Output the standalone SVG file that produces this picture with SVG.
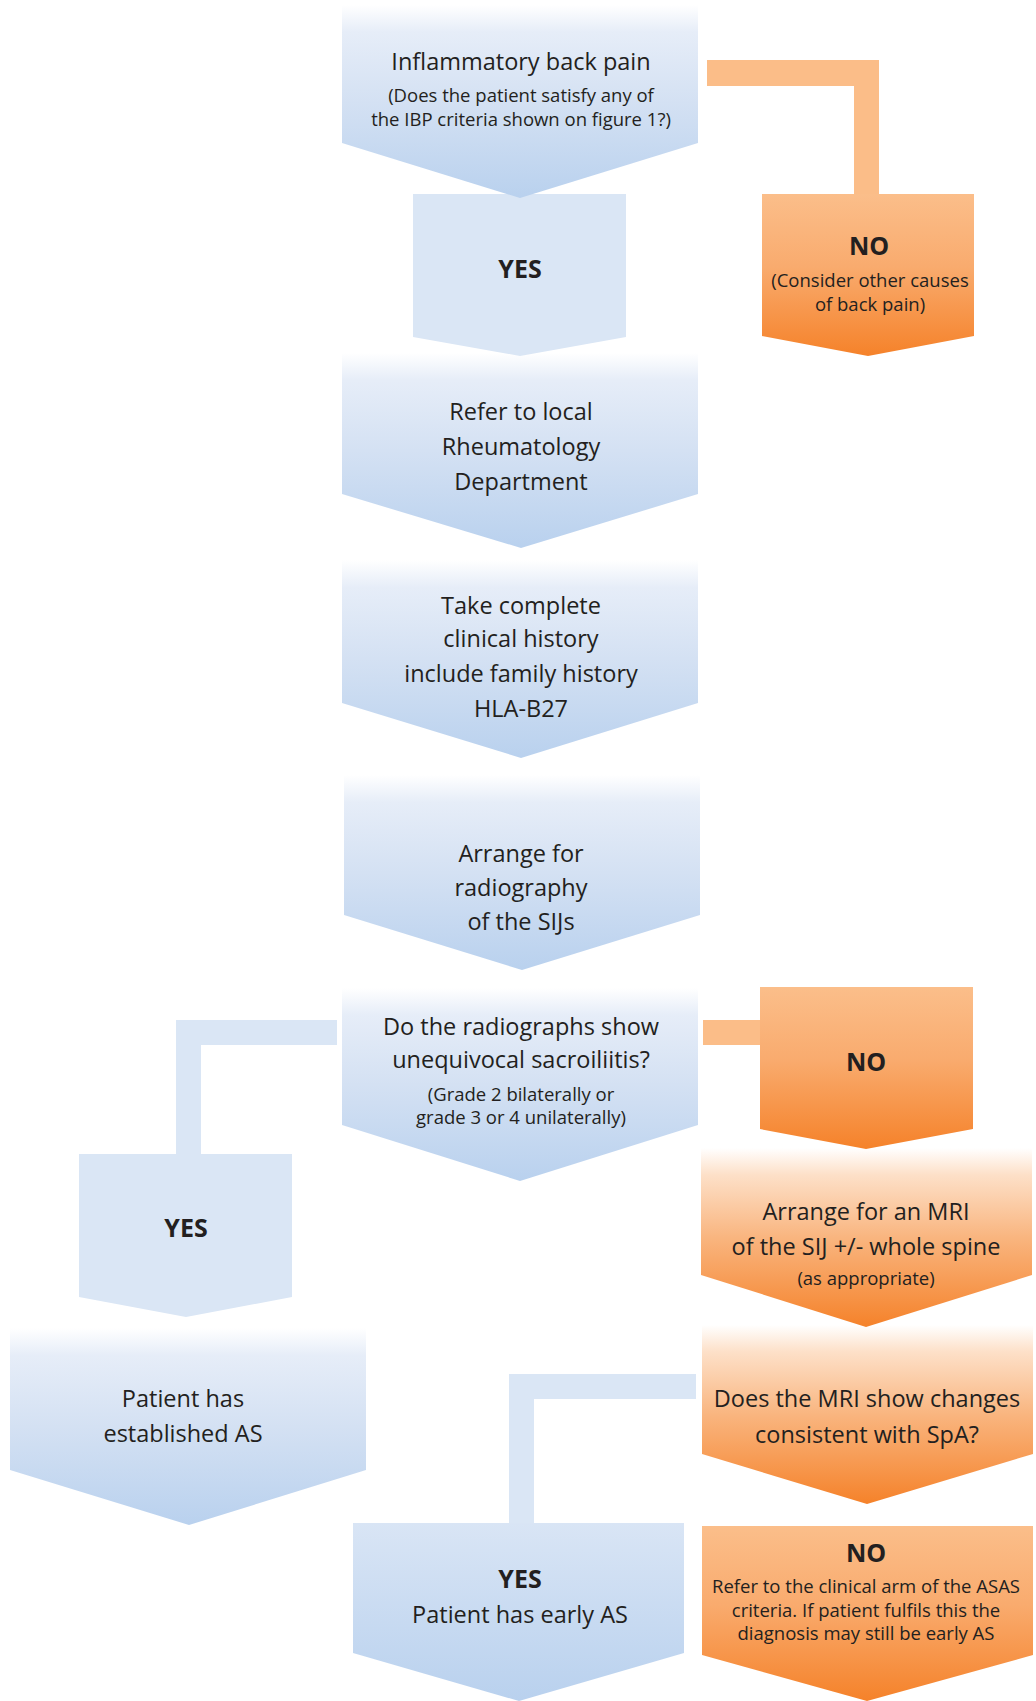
<svg xmlns="http://www.w3.org/2000/svg" width="1036" height="1701" viewBox="0 0 1036 1701">
<style>
text{font-family:"Open Sans","Noto Sans","DejaVu Sans",sans-serif;fill:#231f20;text-anchor:middle}
.m{font-size:23.5px}
.s{font-size:18.5px}
.b{font-size:25px;font-weight:bold}
.blueSolid{fill:#dae6f5}
.orangeBar{fill:#fbbd88}
.blueBar{fill:#dae6f5}
</style>
<defs>
<linearGradient id="blueFade" x1="0" y1="0" x2="0" y2="1">
<stop offset="0" stop-color="#ffffff"/>
<stop offset="0.14" stop-color="#e6edf8"/>
<stop offset="0.5" stop-color="#d4e1f3"/>
<stop offset="1" stop-color="#b9d1ee"/>
</linearGradient>
<linearGradient id="blueGrad" x1="0" y1="0" x2="0" y2="1">
<stop offset="0" stop-color="#d9e5f5"/>
<stop offset="1" stop-color="#b9d1ee"/>
</linearGradient>
<linearGradient id="orangeFade" x1="0" y1="0" x2="0" y2="1">
<stop offset="0" stop-color="#ffffff"/>
<stop offset="0.15" stop-color="#fde0c8"/>
<stop offset="0.5" stop-color="#f9b57f"/>
<stop offset="1" stop-color="#f5822a"/>
</linearGradient>
<linearGradient id="orangeGrad" x1="0" y1="0" x2="0" y2="1">
<stop offset="0" stop-color="#fbbe8a"/>
<stop offset="0.45" stop-color="#f9ab6e"/>
<stop offset="1" stop-color="#f5822a"/>
</linearGradient>
</defs>

<g id="connectors">
<polygon id="c1" class="orangeBar" points="707,60 879,60 879,194 854,194 854,86 707,86"/>
<polygon id="c2" class="blueBar" points="337,1020 176,1020 176,1154 201,1154 201,1045 337,1045"/>
<rect id="c3" class="orangeBar" x="703" y="1020" width="58" height="25"/>
<polygon id="c4" class="blueBar" points="696,1374 509,1374 509,1523 534,1523 534,1399 696,1399"/>
</g>

<g id="n14">
<polygon fill="url(#orangeGrad)" points="702,1526 1033,1526 1033,1655 867,1701 702,1655"/>
<text class="b" x="866" y="1562">NO</text>
<text class="s" x="866" y="1593">Refer to the clinical arm of the ASAS</text>
<text class="s" x="866" y="1617">criteria. If patient fulfils this the</text>
<text class="s" x="866" y="1640">diagnosis may still be early AS</text>
</g>

<g id="n13">
<polygon fill="url(#blueGrad)" points="353,1523 684,1523 684,1653 519,1701 353,1653"/>
<text class="b" x="520" y="1588">YES</text>
<text class="m" x="520" y="1623">Patient has early AS</text>
</g>

<g id="n12">
<polygon fill="url(#orangeFade)" points="702,1325 1033,1325 1033,1454 867,1504 702,1454"/>
<text class="m" x="867" y="1407">Does the MRI show changes</text>
<text class="m" x="867" y="1443">consistent with SpA?</text>
</g>

<g id="n11">
<polygon fill="url(#blueFade)" points="10,1328 366,1328 366,1470 189,1525 10,1470"/>
<text class="m" x="183" y="1407">Patient has</text>
<text class="m" x="183" y="1442">established AS</text>
</g>

<g id="n10">
<polygon fill="url(#orangeFade)" points="701,1148 1032,1148 1032,1275 866,1327 701,1275"/>
<text class="m" x="866" y="1220">Arrange for an MRI</text>
<text class="m" x="866" y="1255">of the SIJ +/- whole spine</text>
<text class="s" x="866" y="1285">(as appropriate)</text>
</g>

<g id="n9">
<polygon fill="url(#orangeGrad)" points="760,987 973,987 973,1129 866,1149 760,1129"/>
<text class="b" x="866" y="1071">NO</text>
</g>

<g id="n8">
<polygon class="blueSolid" points="79,1154 292,1154 292,1297 186,1317 79,1297"/>
<text class="b" x="186" y="1237">YES</text>
</g>

<g id="n7">
<polygon fill="url(#blueFade)" points="342,988 698,988 698,1125 520,1181 342,1125"/>
<text class="m" x="521" y="1035">Do the radiographs show</text>
<text class="m" x="521" y="1068">unequivocal sacroiliitis?</text>
<text class="s" x="521" y="1101">(Grade 2 bilaterally or</text>
<text class="s" x="521" y="1124">grade 3 or 4 unilaterally)</text>
</g>

<g id="n6">
<polygon fill="url(#blueFade)" points="344,775 700,775 700,915 522,970 344,915"/>
<text class="m" x="521" y="862">Arrange for</text>
<text class="m" x="521" y="896">radiography</text>
<text class="m" x="521" y="930">of the SIJs</text>
</g>

<g id="n5">
<polygon fill="url(#blueFade)" points="342,560 698,560 698,703 521,758 342,703"/>
<text class="m" x="521" y="614">Take complete</text>
<text class="m" x="521" y="647">clinical history</text>
<text class="m" x="521" y="682">include family history</text>
<text class="m" x="521" y="717">HLA-B27</text>
</g>

<g id="n4">
<polygon fill="url(#blueFade)" points="342,353 698,353 698,494 521,548 342,494"/>
<text class="m" x="521" y="420">Refer to local</text>
<text class="m" x="521" y="455">Rheumatology</text>
<text class="m" x="521" y="490">Department</text>
</g>

<g id="n3">
<polygon fill="url(#orangeGrad)" points="762,194 974,194 974,336 868,356 762,336"/>
<text class="b" x="869" y="255">NO</text>
<text class="s" x="870" y="287">(Consider other causes</text>
<text class="s" x="870" y="311">of back pain)</text>
</g>

<g id="n2">
<polygon class="blueSolid" points="413,194 626,194 626,337 520,356 413,337"/>
<text class="b" x="520" y="278">YES</text>
</g>

<g id="n1">
<polygon fill="url(#blueFade)" points="342,5 698,5 698,143 520,198 342,143"/>
<text class="m" x="521" y="70">Inflammatory back pain</text>
<text class="s" x="521" y="102">(Does the patient satisfy any of</text>
<text class="s" x="521" y="126">the IBP criteria shown on figure 1?)</text>
</g>
</svg>
